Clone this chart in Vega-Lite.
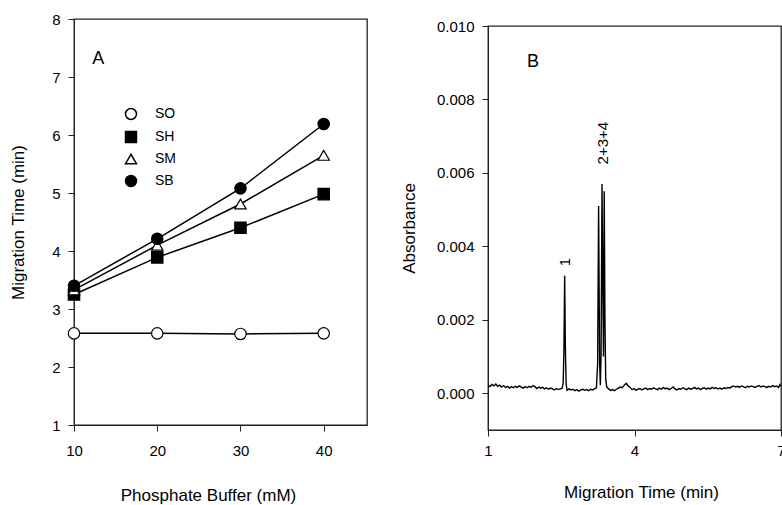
{
  "$schema": "https://vega.github.io/schema/vega-lite/v6.json",
  "padding": {"left": 9, "top": 11, "right": 0, "bottom": 0},
  "autosize": {"type": "pad"},
  "background": "white",
  "config": {
    "font": "Liberation Sans",
    "view": {"stroke": "#222", "strokeWidth": 1.3},
    "axis": {
      "grid": false,
      "labelFontSize": 15,
      "titleFontSize": 17,
      "titleFontWeight": "normal",
      "labelColor": "black",
      "titleColor": "black",
      "domainColor": "#222",
      "tickColor": "#222",
      "tickSize": 6,
      "labelPadding": 8,
      "labelFlush": false
    }
  },
  "bounds": "flush",
  "spacing": 121,
  "hconcat": [
    {
      "width": 293,
      "height": 406,
      "data": {
        "values": [
          {"buffer": 10, "time": 2.58, "series": "SO"},
          {"buffer": 20, "time": 2.58, "series": "SO"},
          {"buffer": 30, "time": 2.57, "series": "SO"},
          {"buffer": 40, "time": 2.58, "series": "SO"},
          {"buffer": 10, "time": 3.25, "series": "SH"},
          {"buffer": 20, "time": 3.89, "series": "SH"},
          {"buffer": 30, "time": 4.4, "series": "SH"},
          {"buffer": 40, "time": 4.98, "series": "SH"},
          {"buffer": 10, "time": 3.33, "series": "SM"},
          {"buffer": 20, "time": 4.1, "series": "SM"},
          {"buffer": 30, "time": 4.81, "series": "SM"},
          {"buffer": 40, "time": 5.65, "series": "SM"},
          {"buffer": 10, "time": 3.4, "series": "SB"},
          {"buffer": 20, "time": 4.21, "series": "SB"},
          {"buffer": 30, "time": 5.08, "series": "SB"},
          {"buffer": 40, "time": 6.19, "series": "SB"}
        ]
      },
      "layer": [
        {
          "mark": {"type": "line", "color": "black", "strokeWidth": 1.5},
          "encoding": {
            "x": {"field": "buffer", "type": "quantitative", "scale": {"domain": [10, 45.2], "nice": false, "zero": false},
              "axis": {"values": [10, 20, 30, 40], "title": "Phosphate Buffer (mM)", "labelPadding": 12, "titlePadding": 29, "titleX": 134, "titleAnchor": "start", "titleAlign": "center"}},
            "y": {"field": "time", "type": "quantitative", "scale": {"domain": [1, 8], "nice": false, "zero": false},
              "axis": {"values": [1, 2, 3, 4, 5, 6, 7, 8], "format": "d", "title": "Migration Time (min)", "titlePadding": 24}},
            "detail": {"field": "series"}
          }
        },
        {
          "mark": {"type": "point", "filled": true, "stroke": "black", "strokeWidth": 1.2, "opacity": 1},
          "encoding": {
            "x": {"field": "buffer", "type": "quantitative"},
            "y": {"field": "time", "type": "quantitative"},
            "shape": {"field": "series", "type": "nominal",
              "scale": {"domain": ["SO", "SH", "SM", "SB"], "range": ["circle", "square", "triangle-up", "circle"]},
              "legend": {"title": null, "orient": "none", "legendX": 50, "legendY": 88, "labelFontSize": 14, "labelColor": "black", "symbolSize": 120, "rowPadding": 5, "labelOffset": 17, "padding": 0,
                "encode": {"symbols": {"update": {"stroke": {"value": "black"}, "strokeWidth": {"value": 1.2}, "opacity": {"value": 1}}}}}},
            "fill": {"field": "series", "type": "nominal",
              "scale": {"domain": ["SO", "SH", "SM", "SB"], "range": ["white", "black", "white", "black"]},
              "legend": {"title": null, "orient": "none", "legendX": 50, "legendY": 88, "labelFontSize": 14, "labelColor": "black", "symbolSize": 120, "rowPadding": 5, "labelOffset": 17, "padding": 0,
                "encode": {"symbols": {"update": {"stroke": {"value": "black"}, "strokeWidth": {"value": 1.2}, "opacity": {"value": 1}}}}}},
            "size": {"value": 130}
          }
        },
        {
          "data": {"values": [{"buffer": 12.9, "time": 7.31, "label": "A"}]},
          "mark": {"type": "text", "fontSize": 18, "align": "center", "baseline": "middle", "color": "black"},
          "encoding": {
            "x": {"field": "buffer", "type": "quantitative"},
            "y": {"field": "time", "type": "quantitative"},
            "text": {"field": "label"}
          }
        }
      ]
    },
    {
      "spacing": 0,
      "bounds": "flush",
      "vconcat": [
        {
          "width": 293,
          "height": 7,
          "view": {"stroke": null},
          "data": {"values": []},
          "mark": {"type": "text"},
          "encoding": {}
        },
        {
          "width": 293,
          "height": 404,
          "layer": [
            {
              "data": {
                "values": [
                  {"t": 1.00, "a": 0.00022}, {"t": 1.04, "a": 0.00018}, {"t": 1.08, "a": 0.00024}, {"t": 1.12, "a": 0.00020},
                  {"t": 1.16, "a": 0.00025}, {"t": 1.20, "a": 0.00019}, {"t": 1.24, "a": 0.00022}, {"t": 1.28, "a": 0.00017},
                  {"t": 1.32, "a": 0.00021}, {"t": 1.36, "a": 0.00016}, {"t": 1.40, "a": 0.00019}, {"t": 1.44, "a": 0.00014},
                  {"t": 1.48, "a": 0.00018}, {"t": 1.52, "a": 0.00015}, {"t": 1.56, "a": 0.00019}, {"t": 1.60, "a": 0.00016},
                  {"t": 1.64, "a": 0.00020}, {"t": 1.68, "a": 0.00017}, {"t": 1.72, "a": 0.00014}, {"t": 1.76, "a": 0.00018},
                  {"t": 1.80, "a": 0.00015}, {"t": 1.84, "a": 0.00019}, {"t": 1.88, "a": 0.00016}, {"t": 1.92, "a": 0.00021},
                  {"t": 1.96, "a": 0.00018}, {"t": 2.00, "a": 0.00013}, {"t": 2.04, "a": 0.00017}, {"t": 2.08, "a": 0.00014},
                  {"t": 2.12, "a": 0.00016}, {"t": 2.16, "a": 0.00012}, {"t": 2.20, "a": 0.00015}, {"t": 2.24, "a": 0.00011},
                  {"t": 2.28, "a": 0.00014}, {"t": 2.32, "a": 0.00012}, {"t": 2.36, "a": 0.00009}, {"t": 2.40, "a": 0.00013},
                  {"t": 2.44, "a": 0.00010}, {"t": 2.48, "a": 0.00012}, {"t": 2.52, "a": 0.00014}, {"t": 2.54, "a": 0.00030},
                  {"t": 2.555, "a": 0.0012}, {"t": 2.57, "a": 0.0032}, {"t": 2.585, "a": 0.0012}, {"t": 2.60, "a": 0.00025},
                  {"t": 2.62, "a": 0.00008}, {"t": 2.66, "a": 0.00012}, {"t": 2.70, "a": 0.00009}, {"t": 2.74, "a": 0.00011},
                  {"t": 2.78, "a": 0.00007}, {"t": 2.82, "a": 0.00010}, {"t": 2.86, "a": 0.00006}, {"t": 2.90, "a": 0.00009},
                  {"t": 2.94, "a": 0.00011}, {"t": 2.98, "a": 0.00008}, {"t": 3.02, "a": 0.00010}, {"t": 3.06, "a": 0.00007},
                  {"t": 3.10, "a": 0.00011}, {"t": 3.14, "a": 0.00009}, {"t": 3.18, "a": 0.00012}, {"t": 3.22, "a": 0.00015},
                  {"t": 3.245, "a": 0.0008}, {"t": 3.265, "a": 0.0051}, {"t": 3.285, "a": 0.0009}, {"t": 3.30, "a": 0.00022},
                  {"t": 3.315, "a": 0.0010}, {"t": 3.335, "a": 0.0057}, {"t": 3.35, "a": 0.0030}, {"t": 3.365, "a": 0.0010},
                  {"t": 3.38, "a": 0.0055}, {"t": 3.395, "a": 0.0020}, {"t": 3.41, "a": 0.00040}, {"t": 3.43, "a": 0.00018},
                  {"t": 3.47, "a": 0.00012}, {"t": 3.51, "a": 0.00008}, {"t": 3.55, "a": 0.00010}, {"t": 3.59, "a": 0.00007},
                  {"t": 3.63, "a": 0.00011}, {"t": 3.67, "a": 0.00014}, {"t": 3.71, "a": 0.00017}, {"t": 3.75, "a": 0.00015},
                  {"t": 3.79, "a": 0.00022}, {"t": 3.83, "a": 0.00027}, {"t": 3.87, "a": 0.00020}, {"t": 3.91, "a": 0.00016},
                  {"t": 3.95, "a": 0.00010}, {"t": 3.99, "a": 0.00013}, {"t": 4.03, "a": 0.00008}, {"t": 4.07, "a": 0.00011},
                  {"t": 4.11, "a": 0.00013}, {"t": 4.15, "a": 0.00009}, {"t": 4.19, "a": 0.00012}, {"t": 4.23, "a": 0.00014},
                  {"t": 4.27, "a": 0.00010}, {"t": 4.31, "a": 0.00013}, {"t": 4.35, "a": 0.00011}, {"t": 4.39, "a": 0.00015},
                  {"t": 4.43, "a": 0.00012}, {"t": 4.47, "a": 0.00010}, {"t": 4.51, "a": 0.00014}, {"t": 4.55, "a": 0.00011},
                  {"t": 4.59, "a": 0.00016}, {"t": 4.63, "a": 0.00012}, {"t": 4.67, "a": 0.00014}, {"t": 4.71, "a": 0.00010},
                  {"t": 4.75, "a": 0.00013}, {"t": 4.79, "a": 0.00017}, {"t": 4.83, "a": 0.00012}, {"t": 4.87, "a": 0.00009},
                  {"t": 4.91, "a": 0.00013}, {"t": 4.95, "a": 0.00011}, {"t": 4.99, "a": 0.00015}, {"t": 5.03, "a": 0.00012},
                  {"t": 5.07, "a": 0.00010}, {"t": 5.11, "a": 0.00014}, {"t": 5.15, "a": 0.00011}, {"t": 5.19, "a": 0.00013},
                  {"t": 5.23, "a": 0.00016}, {"t": 5.27, "a": 0.00012}, {"t": 5.31, "a": 0.00014}, {"t": 5.35, "a": 0.00010},
                  {"t": 5.39, "a": 0.00013}, {"t": 5.43, "a": 0.00015}, {"t": 5.47, "a": 0.00011}, {"t": 5.51, "a": 0.00014},
                  {"t": 5.55, "a": 0.00012}, {"t": 5.59, "a": 0.00016}, {"t": 5.63, "a": 0.00013}, {"t": 5.67, "a": 0.00015},
                  {"t": 5.71, "a": 0.00012}, {"t": 5.75, "a": 0.00014}, {"t": 5.79, "a": 0.00011}, {"t": 5.83, "a": 0.00015},
                  {"t": 5.87, "a": 0.00013}, {"t": 5.91, "a": 0.00016}, {"t": 5.95, "a": 0.00014}, {"t": 5.99, "a": 0.00018},
                  {"t": 6.03, "a": 0.00020}, {"t": 6.07, "a": 0.00017}, {"t": 6.11, "a": 0.00019}, {"t": 6.15, "a": 0.00016},
                  {"t": 6.19, "a": 0.00020}, {"t": 6.23, "a": 0.00018}, {"t": 6.27, "a": 0.00015}, {"t": 6.31, "a": 0.00019},
                  {"t": 6.35, "a": 0.00017}, {"t": 6.39, "a": 0.00020}, {"t": 6.43, "a": 0.00018}, {"t": 6.47, "a": 0.00016},
                  {"t": 6.51, "a": 0.00019}, {"t": 6.55, "a": 0.00021}, {"t": 6.59, "a": 0.00017}, {"t": 6.63, "a": 0.00020},
                  {"t": 6.67, "a": 0.00018}, {"t": 6.71, "a": 0.00016}, {"t": 6.75, "a": 0.00019}, {"t": 6.79, "a": 0.00017},
                  {"t": 6.83, "a": 0.00021}, {"t": 6.87, "a": 0.00018}, {"t": 6.91, "a": 0.00020}, {"t": 6.95, "a": 0.00016},
                  {"t": 6.98, "a": 0.00024}, {"t": 7.00, "a": 0.00019}
                ]
              },
              "mark": {"type": "line", "color": "black", "strokeWidth": 1.4},
              "encoding": {
                "x": {"field": "t", "type": "quantitative", "scale": {"domain": [1, 7], "nice": false, "zero": false},
                  "axis": {"values": [1, 4, 7], "title": "Migration Time (min)", "labelPadding": 7, "titlePadding": 26, "titleX": 153, "titleAnchor": "start", "titleAlign": "center"}},
                "y": {"field": "a", "type": "quantitative", "scale": {"domain": [-0.001, 0.01], "nice": false, "zero": false},
                  "axis": {"values": [0, 0.002, 0.004, 0.006, 0.008, 0.01], "format": ".3f", "title": "Absorbance", "titlePadding": 18}}
              }
            },
            {
              "data": {"values": [
                {"t": 2.57, "a": 0.00357, "label": "1"},
                {"t": 3.35, "a": 0.00681, "label": "2+3+4"}
              ]},
              "mark": {"type": "text", "fontSize": 15, "angle": 270, "align": "center", "baseline": "middle", "color": "black"},
              "encoding": {
                "x": {"field": "t", "type": "quantitative"},
                "y": {"field": "a", "type": "quantitative"},
                "text": {"field": "label"}
              }
            },
            {
              "data": {"values": [{"t": 1.92, "a": 0.00902, "label": "B"}]},
              "mark": {"type": "text", "fontSize": 18, "align": "center", "baseline": "middle", "color": "black"},
              "encoding": {
                "x": {"field": "t", "type": "quantitative"},
                "y": {"field": "a", "type": "quantitative"},
                "text": {"field": "label"}
              }
            }
          ]
        }
      ]
    }
  ]
}
